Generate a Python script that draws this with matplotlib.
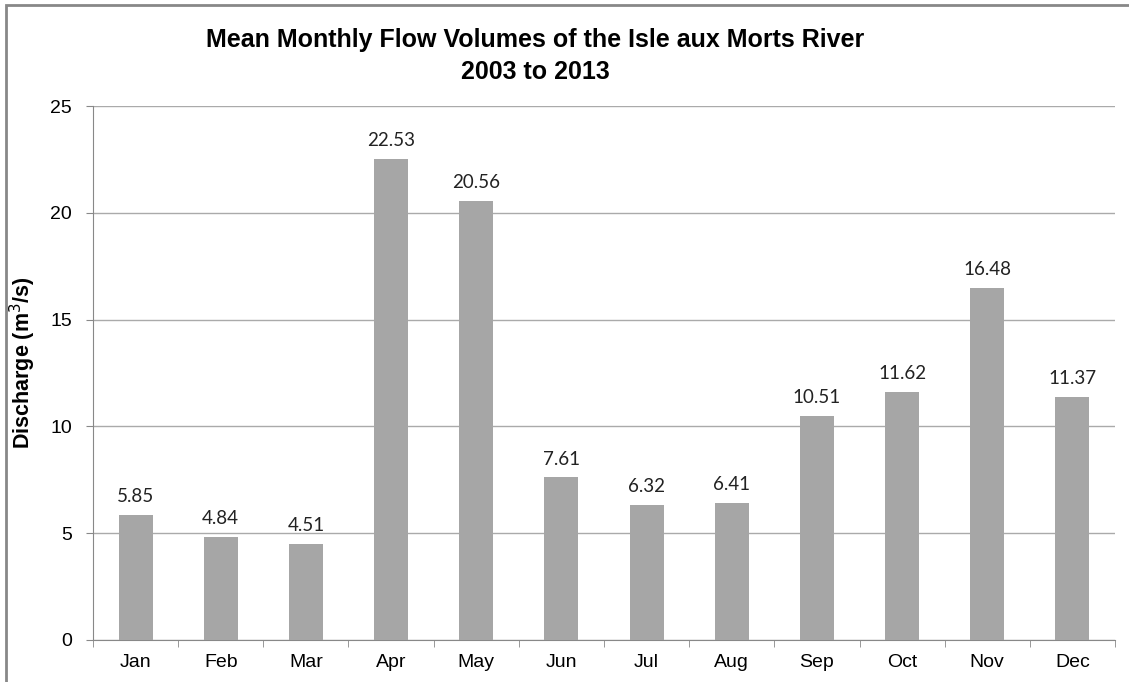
import matplotlib
matplotlib.use("Agg")
import matplotlib.pyplot as plt
from matplotlib.patches import Rectangle

months = ["Jan", "Feb", "Mar", "Apr", "May", "Jun", "Jul", "Aug", "Sep", "Oct", "Nov", "Dec"]
discharge = [5.85, 4.84, 4.51, 22.53, 20.56, 7.61, 6.32, 6.41, 10.51, 11.62, 16.48, 11.37]
yticks = [0, 5, 10, 15, 20, 25]

plt.rcParams['font.family'] = ['Liberation Sans', 'DejaVu Sans']

fig = plt.figure(figsize=(11.29, 6.82), dpi=100)
ax = fig.add_axes([93/1129, 1-640/682, (1115-93)/1129, (640-106)/682])

x = list(range(len(months)))
bars = ax.bar(x, discharge, width=0.4, color="#a6a6a6", zorder=3)

for xi, v in zip(x, discharge):
    ax.annotate(f"{v:.2f}", (xi, v), xytext=(0, 7), textcoords="offset points",
                ha="center", va="bottom", fontsize=13.5, family=["Lato", "DejaVu Sans"],
                color="#222222")

ax.set_xlim(-0.5, len(months) - 0.5)
ax.set_ylim(0, 25)
ax.set_yticks(yticks)
ax.set_yticklabels([str(t) for t in yticks], fontsize=14)
ax.set_xticks(x)
ax.set_xticklabels(months, fontsize=14)
ax.tick_params(axis="x", length=0, pad=10)
ax.set_xticks([i - 0.5 for i in range(len(months) + 1)], minor=True)
ax.tick_params(axis="x", which="minor", length=5, color="#888888", direction="out")
ax.tick_params(axis="y", length=5, color="#888888", pad=10)
ax.yaxis.grid(True, color="#aaaaaa", linewidth=1, zorder=0)
ax.set_axisbelow(True)
for s in ["top", "right"]:
    ax.spines[s].set_visible(False)
ax.spines["left"].set_color("#888888")
ax.spines["bottom"].set_color("#888888")
ax.set_ylabel("Discharge (m$^3$/s)", fontsize=15.5, fontweight="bold")
ax.yaxis.set_label_coords(-55/1022, 0.52)

fig.text(535/1129, 1-56/682, "Mean Monthly Flow Volumes of the Isle aux Morts River\n2003 to 2013",
         ha="center", va="center", fontsize=18, fontweight="bold", linespacing=1.38)

fig.patches.append(Rectangle((6/1129, -0.1), 1.2, 1-5/682 + 0.1, transform=fig.transFigure,
                             fill=False, edgecolor="#888888", linewidth=2))

fig.savefig("out.png", dpi=100)
